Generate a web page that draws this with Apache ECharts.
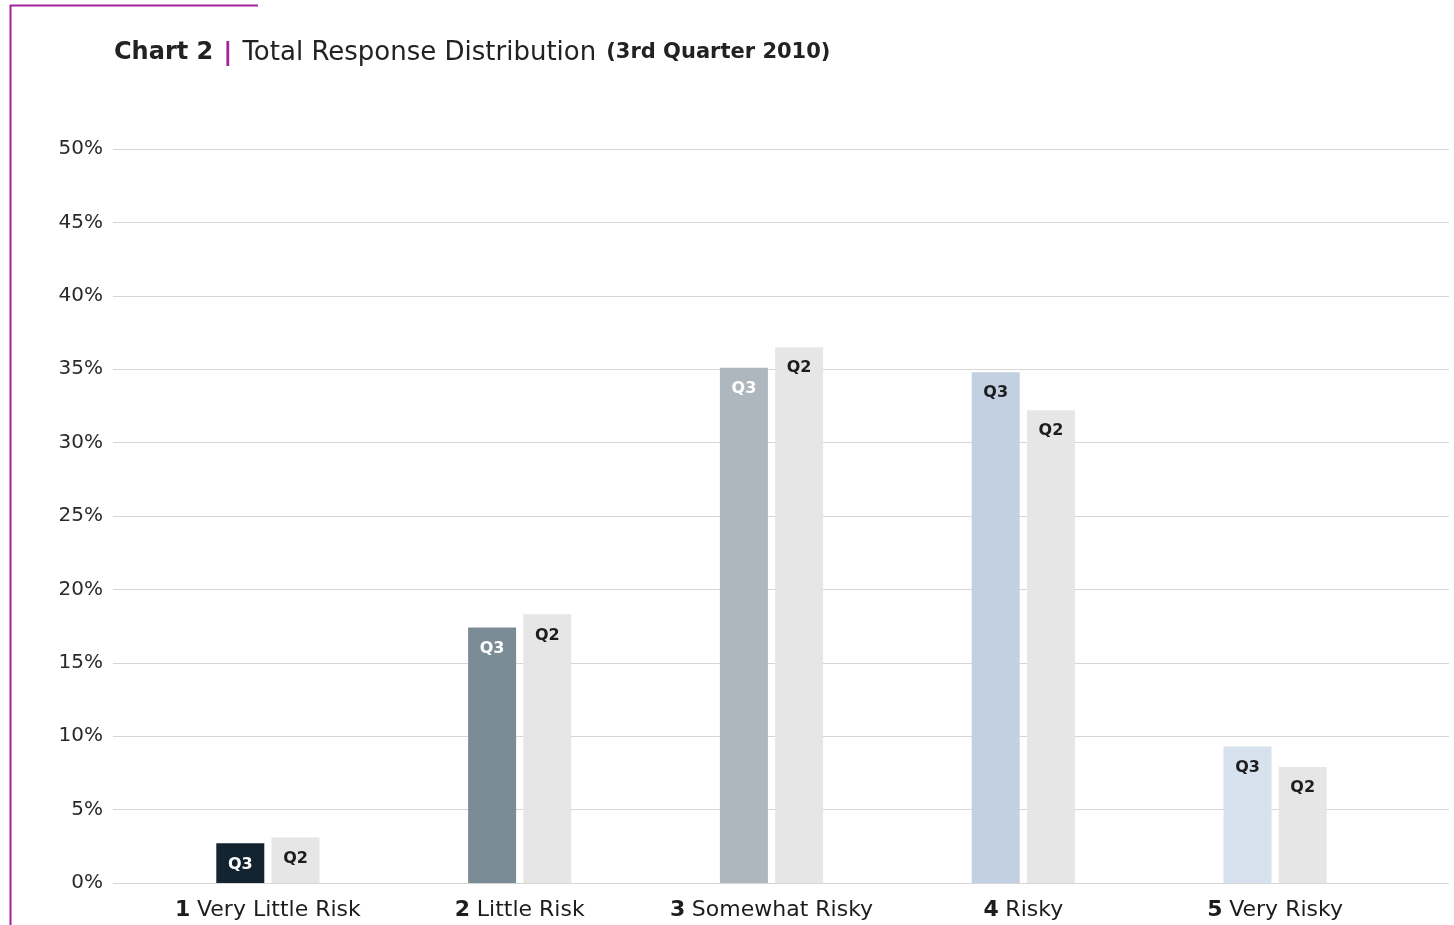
<!DOCTYPE html>
<html>
<head>
<meta charset="utf-8">
<script src="https://cdn.jsdelivr.net/npm/echarts@6/dist/echarts.min.js"></script>
<style>
  html, body { margin: 0; padding: 0; background: #ffffff; }
  #chart { width: 1454px; height: 925px; }
</style>
</head>
<body>
<div id="chart"></div>
<script>
// Risk rating categories (number shown bold, name regular)
const categoryNumbers = ['1', '2', '3', '4', '5'];
const categoryNames = ['Very Little Risk', 'Little Risk', 'Somewhat Risky', 'Risky', 'Very Risky'];

// Share of responses, percent
const q3Values = [2.7, 17.4, 35.1, 34.8, 9.3];
const q2Values = [3.1, 18.3, 36.5, 32.2, 7.9];

// Value-axis ticks
const yTicks = [0, 5, 10, 15, 20, 25, 30, 35, 40, 45, 50];

// Per-category fill for the Q3 bars, and their label colours
const q3Colors = ['#13232f', '#7b8c97', '#aeb6be', '#c2d0e2', '#d8e2ee'];
const q3LabelColors = ['#ffffff', '#ffffff', '#ffffff', '#1d1d1f', '#1d1d1f'];
const q2Color = '#e6e6e6';

const FONT = 'DejaVu Sans';
const chart = echarts.init(document.getElementById('chart'), null, { renderer: 'canvas' });

const categories = categoryNumbers.map((n, i) => n + '|' + categoryNames[i]);

const barLabel = (color) => ({
  show: true,
  position: 'insideTop',
  distance: 13,
  fontFamily: FONT,
  fontWeight: 'bold',
  fontSize: 16,
  color: color
});

chart.setOption({
  animation: false,
  title: {
    left: 109,
    top: 35,
    text: '{a|Chart 2}  {p||}  {b|Total Response Distribution}  {c|(3rd Quarter 2010)}',
    textStyle: {
      fontWeight: 'normal',
      rich: {
        a: { fontFamily: FONT, fontWeight: 'bold', fontSize: 24, color: '#222222' },
        p: { fontFamily: FONT, fontWeight: 'bold', fontSize: 25, color: '#a3239b' },
        b: { fontFamily: FONT, fontWeight: 'normal', fontSize: 26, color: '#222222' },
        c: { fontFamily: FONT, fontWeight: 'bold', fontSize: 21, color: '#222222' }
      }
    }
  },
  graphic: [
    { type: 'line', shape: { x1: 10.5, y1: 5, x2: 10.5, y2: 925 }, style: { stroke: '#a3239b', lineWidth: 2 } },
    { type: 'line', shape: { x1: 10, y1: 5.5, x2: 258, y2: 5.5 }, style: { stroke: '#a3239b', lineWidth: 2 } }
  ],
  grid: [
    // full-width grid carrying the value axis and its gridlines
    { left: 113, right: 5, top: 149, bottom: 42 },
    // narrower grid holding the bars
    { left: 142, right: 53, top: 149, bottom: 42 }
  ],
  xAxis: [
    { gridIndex: 0, type: 'category', data: categories, show: false },
    {
      gridIndex: 1,
      type: 'category',
      data: categories,
      axisLine: { show: false },
      axisTick: { show: false },
      axisLabel: {
        margin: 16,
        formatter: (v) => {
          const [n, name] = v.split('|');
          return '{n|' + n + '}  {t|' + name + '}';
        },
        rich: {
          n: { fontFamily: FONT, fontWeight: 'bold', fontSize: 22, color: '#1d1d1f' },
          t: { fontFamily: FONT, fontSize: 22, color: '#1d1d1f' }
        }
      }
    }
  ],
  yAxis: [
    {
      gridIndex: 0,
      type: 'value',
      min: yTicks[0],
      max: yTicks[yTicks.length - 1],
      interval: yTicks[1] - yTicks[0],
      axisLine: { show: false },
      axisTick: { show: false },
      splitLine: { lineStyle: { color: '#d6d6d6', width: 1 } },
      axisLabel: {
        margin: 10,
        fontFamily: FONT,
        fontSize: 20,
        color: '#2a2a2a',
        formatter: (v) => v + '%'
      }
    },
    {
      gridIndex: 1,
      type: 'value',
      min: yTicks[0],
      max: yTicks[yTicks.length - 1],
      interval: yTicks[1] - yTicks[0],
      show: false
    }
  ],
  series: [
    {
      name: 'Q3',
      type: 'bar',
      xAxisIndex: 1,
      yAxisIndex: 1,
      barWidth: 48,
      barGap: '15%',
      data: q3Values.map((v, i) => ({
        value: v,
        itemStyle: { color: q3Colors[i] },
        label: barLabel(q3LabelColors[i])
      })),
      label: { formatter: 'Q3' }
    },
    {
      name: 'Q2',
      type: 'bar',
      xAxisIndex: 1,
      yAxisIndex: 1,
      barWidth: 48,
      barGap: '15%',
      itemStyle: { color: q2Color },
      data: q2Values,
      label: Object.assign(barLabel('#1d1d1f'), { formatter: 'Q2' })
    }
  ]
});
</script>
</body>
</html>
